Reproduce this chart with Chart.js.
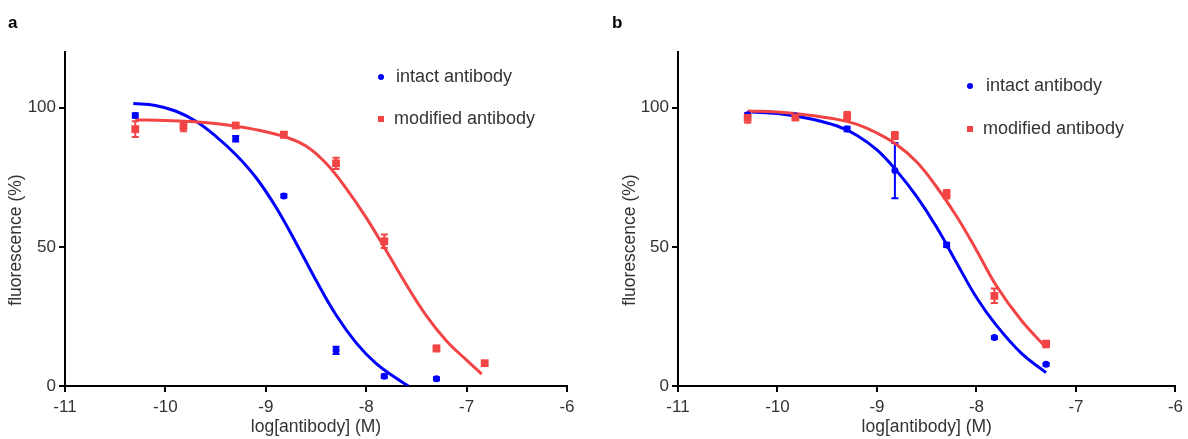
<!DOCTYPE html>
<html>
<head>
    <title>Antibody dose response</title>
    <style>
        body { margin: 0; background: #fff; }
        .panel { position: absolute; top: 0; width: 594px; height: 439px; }
    </style>
    <script src="https://cdn.jsdelivr.net/npm/chart.js"></script>
</head>
<body>
    <div class="panel" style="left:0"><canvas id="chartA" width="594" height="439"></canvas></div>
    <div class="panel" style="left:594px"><canvas id="chartB" width="594" height="439"></canvas></div>

    <script>
        // log[antibody] (M) doses
        var doses = [-10.3, -9.82, -9.3, -8.82, -8.3, -7.82, -7.3, -6.82];
        var xTicks = [-11, -10, -9, -8, -7, -6];
        var yTicks = [0, 50, 100];

        // panel a - measured points (mean, error)
        var aIntact = [97.2, 93.4, 88.8, 68.3, 12.8, 3.5, 2.6];
        var aIntactErr = [0.8, 0.5, 1.0, 0.6, 1.3, 0.6, 0.5];
        var aModified = [92.3, 93.3, 93.6, 90.3, 80.0, 52.0, 13.5, 8.2];
        var aModifiedErr = [2.8, 1.8, 0.8, 1.0, 2.0, 2.4, 1.0, 0.5];

        // panel a - fitted curves
        var aIntactFitX = [-10.32, -10.1, -9.9, -9.7, -9.5, -9.3, -9.1, -8.9, -8.7, -8.5, -8.3, -8.1, -7.9, -7.7, -7.58];
        var aIntactFitY = [101.5, 100.8, 98.8, 95.2, 89.8, 83.2, 75.0, 64.3, 51.5, 38.0, 25.5, 15.5, 8.0, 2.8, 0.0];
        var aModifiedFitX = [-10.3, -10.0, -9.7, -9.4, -9.1, -8.8, -8.6, -8.4, -8.2, -8.0, -7.8, -7.6, -7.4, -7.2, -7.0, -6.85];
        var aModifiedFitY = [95.7, 95.4, 94.9, 93.9, 92.1, 89.4, 86.2, 80.0, 71.0, 60.5, 48.6, 36.4, 25.2, 16.2, 9.3, 4.3];

        // panel b - measured points (mean, error)
        var bIntact = [97.5, 97.0, 92.3, 77.4, 50.7, 17.4, 7.8];
        var bIntactErr = [0.5, 0.5, 0.8, 9.9, 0.8, 0.5, 0.5];
        var bModified = [96.3, 96.5, 96.9, 90.0, 68.9, 32.4, 15.1];
        var bModifiedErr = [1.7, 1.0, 1.5, 1.3, 1.5, 2.6, 1.2];

        // panel b - fitted curves
        var bIntactFitX = [-10.26, -10.0, -9.7, -9.4, -9.2, -9.0, -8.8, -8.6, -8.4, -8.2, -8.0, -7.8, -7.55, -7.3];
        var bIntactFitY = [98.4, 97.9, 96.2, 93.4, 90.0, 84.8, 77.2, 68.0, 57.0, 44.3, 31.8, 21.8, 11.8, 4.8];
        var bModifiedFitX = [-10.3, -10.0, -9.7, -9.4, -9.2, -9.0, -8.8, -8.6, -8.4, -8.2, -8.0, -7.8, -7.55, -7.3];
        var bModifiedFitY = [98.8, 98.4, 97.4, 95.8, 94.0, 90.9, 86.7, 80.5, 71.5, 61.0, 48.8, 36.0, 23.6, 13.8];

        var seriesNames = ['intact antibody', 'modified antibody'];
        var BLUE = '#0000ff';
        var RED = '#f24444';
        var FONT = "'Liberation Sans', Arial, sans-serif";
        var TEXT = '#333';

        function pts(xs, ys) {
            return ys.map(function(y, i) { return {x: xs[i], y: y}; });
        }

        // error bars for the scatter datasets, drawn under the markers
        var errorBars = {
            id: 'errorBars',
            beforeDatasetsDraw: function(chart) {
                var ctx = chart.ctx;
                var xs = chart.scales.x, ys = chart.scales.y;
                chart.data.datasets.slice().reverse().forEach(function(ds) {
                    if (!ds.err) return;
                    ctx.save();
                    ctx.strokeStyle = ds.borderColor;
                    ctx.lineWidth = 2;
                    ds.data.forEach(function(p, i) {
                        var e = ds.err[i];
                        var px = xs.getPixelForValue(p.x);
                        var top = ys.getPixelForValue(p.y + e);
                        var bot = ys.getPixelForValue(p.y - e);
                        ctx.beginPath();
                        ctx.moveTo(px, top); ctx.lineTo(px, bot);
                        ctx.moveTo(px - 3.5, top); ctx.lineTo(px + 3.5, top);
                        ctx.moveTo(px - 3.5, bot); ctx.lineTo(px + 3.5, bot);
                        ctx.stroke();
                    });
                    ctx.restore();
                });
            }
        };

        // panel letter, axis titles and the inside legend
        var panelText = {
            id: 'panelText',
            afterDraw: function(chart, args, o) {
                var ctx = chart.ctx;
                var area = chart.chartArea;
                ctx.save();
                ctx.fillStyle = '#000';
                ctx.font = 'bold 17px ' + FONT;
                ctx.textBaseline = 'alphabetic';
                ctx.textAlign = 'left';
                ctx.fillText(o.letter, o.letterX, 28);

                ctx.fillStyle = TEXT;
                ctx.font = '17.5px ' + FONT;
                ctx.textAlign = 'center';
                ctx.textBaseline = 'middle';
                ctx.fillText('log[antibody] (M)', (area.left + area.right) / 2, 427);
                ctx.save();
                ctx.translate(o.yTitleX, 240);
                ctx.rotate(-Math.PI / 2);
                ctx.fillText('fluorescence (%)', 0, 0);
                ctx.restore();

                // legend
                ctx.textAlign = 'left';
                ctx.fillStyle = BLUE;
                ctx.beginPath();
                ctx.arc(o.leg.x, o.leg.y1, 3, 0, Math.PI * 2);
                ctx.fill();
                ctx.fillStyle = RED;
                ctx.fillRect(o.leg.x - 3, o.leg.y2 - 3, 6, 6);
                ctx.fillStyle = TEXT;
                ctx.font = '18px ' + FONT;
                ctx.fillText(seriesNames[0], o.leg.t1, o.leg.y1);
                ctx.fillText(seriesNames[1], o.leg.t2, o.leg.y2);
                ctx.restore();
            }
        };

        function makeChart(id, p) {
            var tickFont = {family: FONT, size: 17};
            return new Chart(document.getElementById(id), {
                type: 'scatter',
                data: {
                    datasets: [{
                        label: seriesNames[1] + ' points',
                        data: pts(doses, p.mod),
                        err: p.modErr,
                        backgroundColor: RED,
                        borderColor: RED,
                        pointStyle: 'rect',
                        pointRadius: 5.5,
                        borderWidth: 0,
                        order: 0
                    }, {
                        label: seriesNames[0] + ' points',
                        data: pts(doses, p.intact),
                        err: p.intactErr,
                        backgroundColor: BLUE,
                        borderColor: BLUE,
                        pointStyle: 'circle',
                        pointRadius: 3.5,
                        borderWidth: 0,
                        order: 1
                    }, {
                        label: seriesNames[1],
                        type: 'line',
                        data: pts(p.modFitX, p.modFitY),
                        borderColor: RED,
                        borderWidth: 3,
                        pointRadius: 0,
                        tension: 0.4,
                        fill: false,
                        order: 2
                    }, {
                        label: seriesNames[0],
                        type: 'line',
                        data: pts(p.intactFitX, p.intactFitY),
                        borderColor: BLUE,
                        borderWidth: 3,
                        pointRadius: 0,
                        tension: 0.4,
                        fill: false,
                        order: 3
                    }]
                },
                options: {
                    responsive: false,
                    animation: false,
                    devicePixelRatio: 1,
                    layout: {padding: {top: 52, right: p.padRight, left: 0, bottom: 0}},
                    plugins: {
                        legend: {display: false},
                        tooltip: {enabled: false},
                        panelText: p.text
                    },
                    scales: {
                        x: {
                            type: 'linear', min: -11, max: -6,
                            afterBuildTicks: function(s) { s.ticks = xTicks.map(function(v) { return {value: v}; }); },
                            afterFit: function(s) { s.height = 53; },
                            ticks: {color: TEXT, font: tickFont, padding: 5, maxRotation: 0},
                            grid: {display: true, drawOnChartArea: false, drawTicks: true, tickLength: 6, color: '#000', lineWidth: 2},
                            border: {display: true, color: '#000', width: 2}
                        },
                        y: {
                            min: 0, max: 120,
                            afterBuildTicks: function(s) { s.ticks = yTicks.map(function(v) { return {value: v}; }); },
                            afterFit: function(s) { s.width = p.axisLeft; },
                            ticks: {color: TEXT, font: tickFont, padding: 3},
                            grid: {display: true, drawOnChartArea: false, drawTicks: true, tickLength: 6, color: '#000', lineWidth: 2},
                            border: {display: true, color: '#000', width: 2}
                        }
                    }
                },
                plugins: [errorBars, panelText]
            });
        }

        makeChart('chartA', {
            intact: aIntact, intactErr: aIntactErr, mod: aModified, modErr: aModifiedErr,
            intactFitX: aIntactFitX, intactFitY: aIntactFitY, modFitX: aModifiedFitX, modFitY: aModifiedFitY,
            axisLeft: 65, padRight: 27,
            text: {letter: 'a', letterX: 8, yTitleX: 16, leg: {x: 381, y1: 77, y2: 119, t1: 396, t2: 394}}
        });
        makeChart('chartB', {
            intact: bIntact, intactErr: bIntactErr, mod: bModified, modErr: bModifiedErr,
            intactFitX: bIntactFitX, intactFitY: bIntactFitY, modFitX: bModifiedFitX, modFitY: bModifiedFitY,
            axisLeft: 84, padRight: 10,
            text: {letter: 'b', letterX: 18, yTitleX: 36, leg: {x: 376, y1: 86, y2: 129, t1: 392, t2: 389}}
        });
    </script>
</body>
</html>
